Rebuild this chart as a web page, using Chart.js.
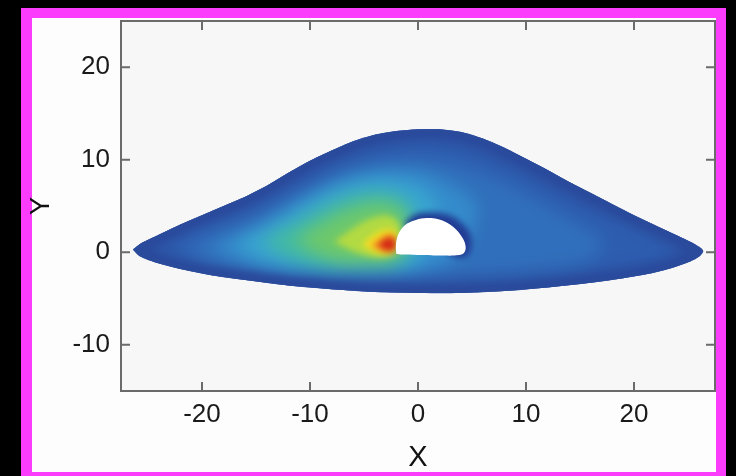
<!DOCTYPE html>
<html>
<head>
<meta charset="utf-8">
<script src="https://cdn.jsdelivr.net/npm/chart.js@4.4.1/dist/chart.umd.min.js"></script>
<style>
  html, body { margin:0; padding:0; background:#000; width:736px; height:476px; overflow:hidden; }
  .frame { position:absolute; left:21px; top:8px; width:705px; height:474px; box-sizing:border-box;
           border:10px solid #fc3cfc; border-left-width:11px; background:#fdfdfd; }
  .box { position:absolute; left:-10px; top:0; width:694px; height:454px; }
</style>
</head>
<body>
<div class="frame"><div class="box"><canvas id="field"></canvas></div></div>
<script>
// ---- tick values ----
const xTicks = [-20, -10, 0, 10, 20];
const yTicks = [-10, 0, 10, 20];

// ---- outline of the domain ----
const outerX = [-26.4,-25.6,-24,-22,-20,-18,-16,-14,-12,-10,-8,-6,-4,-2,0,2,4,6,8,10,12,14,16,18,20,22,24,25.6,26.4,26.1,25.2,23.5,21.5,19,16,12,8,4,0,-4,-8,-12,-16,-19,-22,-24.3,-25.8,-26.4];
const outerY = [0.3,1.0,1.9,3.0,4.0,5.0,6.0,7.2,8.6,9.9,11.0,12.0,12.7,13.1,13.3,13.3,13.0,12.3,11.3,10.1,8.9,7.6,6.4,5.2,4.0,2.9,1.8,0.9,0.2,-0.4,-1.0,-1.7,-2.3,-2.8,-3.3,-3.8,-4.2,-4.4,-4.4,-4.3,-4.0,-3.6,-3.0,-2.5,-1.8,-1.1,-0.4,0.3];

// ---- contour bands, outside to inside ----
const bandAX = [-24.8,-23,-20,-16,-12,-8,-4,0,4,8,12,16,20,23,24.6,23,19,14,8,0,-8,-14,-19,-23,-24.8];
const bandAY = [0.2,1.6,3.0,4.8,7.3,9.8,11.4,12.0,11.6,9.8,7.4,5.0,3.0,1.4,0.2,-1.0,-1.8,-2.5,-3.0,-3.2,-3.0,-2.6,-2.0,-1.0,0.2];
const bandBX = [-22,-19,-15,-11,-7,-3,1,5,9,12,15,17,16,12,6,0,-8,-14,-19,-22];
const bandBY = [0.3,2.0,3.8,6.3,8.5,9.8,10.0,9.0,7.0,5.0,3.0,1.2,-0.8,-1.8,-2.4,-2.7,-2.7,-2.3,-1.5,0.3];
const bandCX = [-19.5,-16,-12,-8,-4,0,3,5.4,5.2,4.5,3,0,-5,-10,-15,-19.5];
const bandCY = [0.6,2.4,5.0,7.6,8.9,8.8,7.4,5.2,3.0,1.0,-1.0,-2.1,-2.4,-2.3,-1.7,0.6];
const bandDX = [-17,-14,-11,-8,-5,-2,0.5,1.8,1.2,0,-3,-8,-12,-15,-17];
const bandDY = [1.0,2.8,5.0,6.8,7.8,7.8,6.8,5.0,2.0,-1.2,-2.0,-2.1,-1.6,-0.5,1.0];
const bandEX = [-14.5,-11,-8,-5,-2.5,-0.8,-0.5,-0.8,-2,-5,-9,-12,-14.5];
const bandEY = [1.2,3.4,5.3,6.4,6.3,5.2,2.5,0,-1.4,-1.7,-1.5,-0.5,1.2];
const bandFX = [-11.5,-9,-6.5,-4,-2,-1.1,-1.2,-2,-4.5,-8,-11.5];
const bandFY = [1.3,3.1,4.6,5.3,5.0,3.6,1.0,-0.7,-1.1,-0.8,1.3];
const rimX = [-1.3,-0.4,1.0,2.6,3.9,4.8,4.9,4.4,3.0,1.5,-0.2,-1.3];
const rimY = [3.0,4.0,4.3,4.1,3.3,2.0,0.4,-0.5,-0.3,1.2,2.2,3.0];
const bandGX = [-7.8,-6.0,-4.2,-2.6,-1.7,-1.7,-2.5,-4.8,-7.8];
const bandGY = [1.1,2.6,3.7,3.9,2.9,0.6,-0.4,-0.4,1.1];
const bandHX = [-5.2,-4.2,-3.0,-2.1,-1.9,-2.3,-3.8,-5.2];
const bandHY = [0.8,1.8,2.5,2.2,0.6,-0.2,-0.1,0.8];
const bandIX = [-4.4,-3.5,-2.7,-2.0,-2.0,-3.0,-4.4];
const bandIY = [0.7,1.5,2.0,1.5,0.3,0.0,0.7];
const bandJX = [-3.7,-3.1,-2.4,-2.1,-2.2,-3.0,-3.7];
const bandJY = [0.8,1.4,1.6,1.0,0.3,0.2,0.8];

// ---- hole ----
const holeX = [-2.0,-2.05,-1.95,-1.6,-1.0,-0.2,0.8,1.8,2.7,3.5,4.1,4.4,4.3,3.8,2.0,0,-1.5,-2.0];
const holeY = [-0.2,0.6,1.5,2.4,3.1,3.5,3.7,3.6,3.2,2.5,1.6,0.7,0.0,-0.3,-0.35,-0.3,-0.25,-0.2];

const FONT = "'Liberation Sans', Arial, Helvetica, sans-serif";

// layers in drawing order (bottom first)
const layers = [
  { label:'outer', xs:outerX, ys:outerY, color:'#2a4a9c' },
  { label:'A', xs:bandAX, ys:bandAY, color:'#2d5daf' },
  { label:'B', xs:bandBX, ys:bandBY, color:'#306fbb' },
  { label:'C', xs:bandCX, ys:bandCY, color:'#348bcb' },
  { label:'D', xs:bandDX, ys:bandDY, color:'#38a5d0' },
  { label:'E', xs:bandEX, ys:bandEY, color:'#42baa2' },
  { label:'F', xs:bandFX, ys:bandFY, color:'#6ec86a' },
  { label:'rim', xs:rimX, ys:rimY, color:'#223c94' },
  { label:'G', xs:bandGX, ys:bandGY, color:'#b2da42' },
  { label:'H', xs:bandHX, ys:bandHY, color:'#f4de22' },
  { label:'I', xs:bandIX, ys:bandIY, color:'#f08c22' },
  { label:'J', xs:bandJX, ys:bandJY, color:'#d42a16' },
  { label:'hole', xs:holeX, ys:holeY, color:'#ffffff' }
];

const datasets = layers.map((l, i) => ({
  label: l.label,
  data: l.xs.map((v, k) => ({ x: v, y: l.ys[k] })),
  showLine: true,
  fill: 'shape',
  backgroundColor: l.color,
  borderColor: l.color,
  borderWidth: 0,
  pointRadius: 0,
  tension: 0.4,
  order: layers.length - i   // 1st dataset in list is drawn first
}));

// ---- path helper: polygon through data points via the scales ----
function tracePath(c, chart, xs, ys) {
  const sx = chart.scales.x, sy = chart.scales.y;
  xs.forEach((v, i) => {
    const px = sx.getPixelForValue(v), py = sy.getPixelForValue(ys[i]);
    if (i === 0) c.moveTo(px, py); else c.lineTo(px, py);
  });
  c.closePath();
}

// ---- soften the bands (blur inside the outline) ----
const blurAfter = { F: 8, J: 3 };
const softField = {
  id: 'softField',
  afterDatasetDraw(chart, args) {
    const name = chart.data.datasets[args.index].label;
    const r = blurAfter[name];
    if (!r) return;
    const cv = chart.canvas;
    const off = document.createElement('canvas');
    off.width = cv.width; off.height = cv.height;
    const o = off.getContext('2d');
    o.drawImage(cv, 0, 0);
    o.lineJoin = 'round';
    o.strokeStyle = '#2a4a9c';
    o.lineWidth = 18;
    o.beginPath(); tracePath(o, chart, outerX, outerY); o.stroke();
    const ctx = chart.ctx;
    ctx.save();
    ctx.beginPath(); tracePath(ctx, chart, outerX, outerY); ctx.clip();
    ctx.filter = 'blur(' + r + 'px)';
    ctx.drawImage(off, 0, 0);
    ctx.restore();
  }
};

// ---- plot background, frame and inward ticks ----
const plotFrame = {
  id: 'plotFrame',
  beforeDatasetsDraw(chart) {
    const { ctx, chartArea: a } = chart;
    ctx.save();
    ctx.fillStyle = '#f7f7f7';
    ctx.fillRect(a.left, a.top, a.right - a.left, a.bottom - a.top);
    ctx.restore();
  },
  afterDraw(chart) {
    const { ctx, chartArea: a, scales: { x, y } } = chart;
    const t = 9;
    ctx.save();
    ctx.strokeStyle = '#6b6b6b';
    ctx.lineWidth = 2;
    ctx.strokeRect(a.left, a.top, a.right - a.left, a.bottom - a.top);
    ctx.beginPath();
    xTicks.forEach(v => {
      const px = x.getPixelForValue(v);
      ctx.moveTo(px, a.bottom); ctx.lineTo(px, a.bottom - t);
      ctx.moveTo(px, a.top); ctx.lineTo(px, a.top + t);
    });
    yTicks.forEach(v => {
      const py = y.getPixelForValue(v);
      ctx.moveTo(a.left, py); ctx.lineTo(a.left + t, py);
      ctx.moveTo(a.right, py); ctx.lineTo(a.right - t, py);
    });
    ctx.stroke();
    ctx.restore();
  }
};

new Chart(document.getElementById('field'), {
  type: 'scatter',
  data: { datasets },
  options: {
    responsive: true,
    maintainAspectRatio: false,
    animation: false,
    layout: { padding: { top: 3, right: 1, left: 0, bottom: 0 } },
    plugins: { legend: { display: false }, tooltip: { enabled: false } },
    scales: {
      x: {
        type: 'linear', min: -27.5, max: 27.5,
        afterBuildTicks: s => { s.ticks = xTicks.map(v => ({ value: v })); },
        afterFit: s => { s.height = 81; s.paddingLeft = 0; s.paddingRight = 0; },
        grid: { display: false, drawTicks: false },
        border: { display: false },
        ticks: { font: { family: FONT, size: 26 }, color: '#1a1a1a', padding: 8, maxRotation: 0 },
        title: { display: true, text: 'X', color: '#111', font: { family: FONT, size: 29, lineHeight: 1.0 }, padding: { top: 0, bottom: 0 } }
      },
      y: {
        type: 'linear', min: -15, max: 25,
        afterBuildTicks: s => { s.ticks = yTicks.map(v => ({ value: v })); },
        afterFit: s => { s.width = 99; s.paddingTop = 0; s.paddingBottom = 0; },
        grid: { display: false, drawTicks: false },
        border: { display: false },
        ticks: { font: { family: FONT, size: 26 }, color: '#1a1a1a', padding: 11 },
        title: { display: true, text: 'Y', color: '#111', font: { family: FONT, size: 27, lineHeight: 1.2 }, padding: { top: 3, bottom: 0 } }
      }
    }
  },
  plugins: [plotFrame, softField]
});
</script>
</body>
</html>
